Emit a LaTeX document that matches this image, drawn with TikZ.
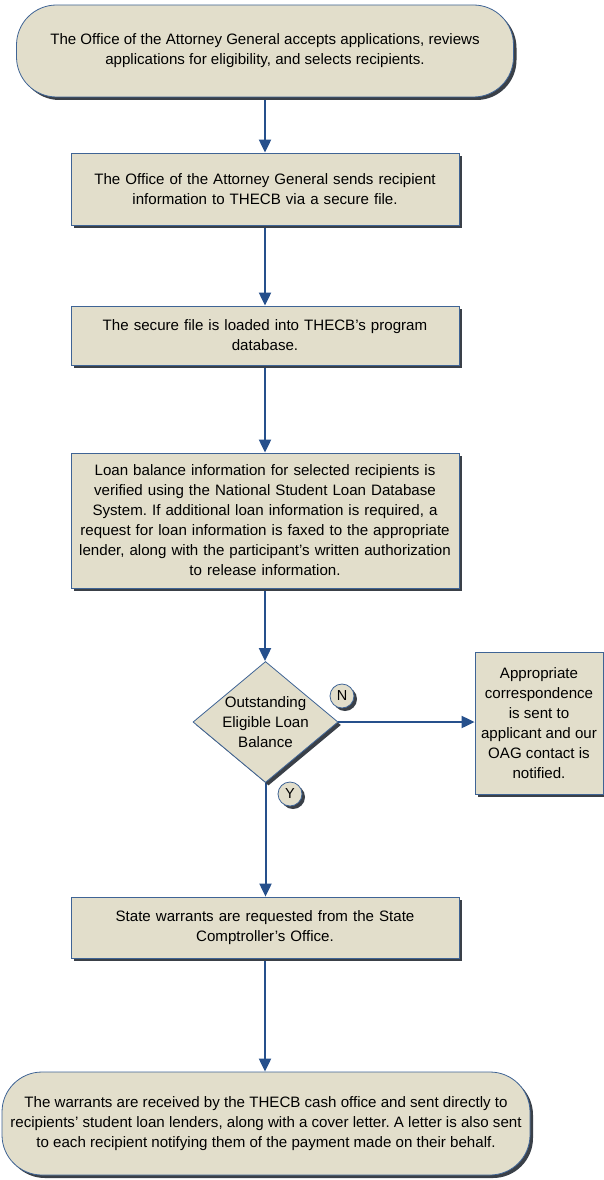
\documentclass[tikz,border=0pt]{standalone}
\usepackage{fontspec}
\setmainfont{Liberation Sans}
\frenchspacing
\usetikzlibrary{arrows.meta,shapes.geometric,shadows,backgrounds}
\definecolor{boxfill}{HTML}{E2DECB}
\definecolor{boxline}{HTML}{3F6495}
\definecolor{flowline}{HTML}{26508C}
\definecolor{shade}{HTML}{3A4048}
\tikzset{
  base/.style={draw=boxline, line width=0.8pt, fill=boxfill, align=center,
    font=\fontsize{15.1}{20}\selectfont,
    drop shadow={shadow xshift=3pt, shadow yshift=-3pt, fill=shade, opacity=1}},
  stepbox/.style={base, rectangle, inner xsep=4pt, text width=380pt},
  termbox/.style={base, rectangle, rounded corners=40pt},
  decide/.style={base, diamond, minimum width=145pt, minimum height=121pt, inner sep=0pt},
  answer/.style={base, circle, minimum size=24pt, inner sep=0pt, font=\fontsize{14.5}{14.5}\selectfont},
  flow/.style={draw=flowline, line width=2pt, -{Triangle[length=13pt,width=12pt]}},
}

\begin{document}
\begin{tikzpicture}[x=1pt,y=-1pt]
  \useasboundingbox (0,0) rectangle (604,1180);

  \node[termbox, minimum width=497pt, minimum height=92pt] (start) at (265,51)
    {The Office of the Attorney General accepts applications, reviews\\
     applications for eligibility, and selects recipients.};
  \node[stepbox, minimum height=72pt] (send) at (265,189)
    {The Office of the Attorney General sends recipient\\
     information to THECB via a secure file.};
  \node[stepbox, minimum height=59pt] (load) at (265,335.5)
    {The secure file is loaded into THECB's program\\ database.};
  \node[stepbox, minimum height=135pt] (verify) at (265,520.5)
    {Loan balance information for selected recipients is\\
     verified using the National Student Loan Database\\
     System. If additional loan information is required, a\\
     request for loan information is faxed to the appropriate\\
     lender, along with the participant's written authorization\\
     to release information.};
  \node[decide] (ask) at (265.5,722) {};
  \node[font=\fontsize{15.1}{20}\selectfont, align=center] (askText) at (ask)
    {Outstanding\\ Eligible Loan\\ Balance};
  \node[base, rectangle, minimum width=128pt, minimum height=142pt, inner sep=0pt] (notify) at (539,723)
    {Appropriate\\ correspondence\\ is sent to\\ applicant and our\\ OAG contact is\\ notified.};
  \node[stepbox, minimum height=61pt] (warrant) at (265,927.5)
    {State warrants are requested from the State\\ Comptroller's Office.};
  \node[termbox, minimum width=528pt, minimum height=103pt] (finish) at (266,1123.5)
    {The warrants are received by the THECB cash office and sent directly to\\
     recipients' student loan lenders, along with a cover letter. A letter is also sent\\
     to each recipient notifying them of the payment made on their behalf.};

  \begin{scope}[on background layer]
    \draw[flow] (start) -- (send);
    \draw[flow] (send) -- (load);
    \draw[flow] (load) -- (verify);
    \draw[flow] (verify) -- (verify |- ask.north);
    \draw[flow] (ask.east) -- (ask.east -| notify.west);
    \draw[flow] (ask) -- (ask |- warrant.north);
    \draw[flow] (warrant) -- (warrant |- finish.north);
  \end{scope}

  \node[answer] (no)  at (342,696) {N};
  \node[answer] (yes) at (290,794) {Y};
\end{tikzpicture}
\end{document}
